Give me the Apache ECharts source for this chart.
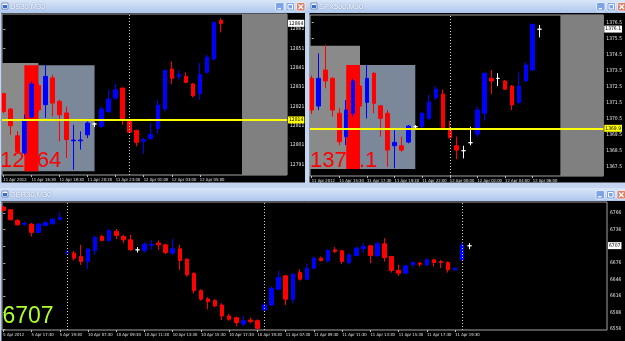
<!DOCTYPE html>
<html><head><meta charset="utf-8">
<script src="https://cdn.jsdelivr.net/npm/echarts@6/dist/echarts.min.js"></script>
<style>html,body{margin:0;padding:0;background:#000;overflow:hidden}#c{width:625px;height:341px}</style>
</head><body><div id="c"></div>
<script>
// ---------------- DATA ----------------
// US30, M30
const us30Times = ["11 Apr 2012","11 Apr 16:30","11 Apr 18:30","11 Apr 20:30","11 Apr 23:00","12 Apr 01:00","12 Apr 03:00","12 Apr 05:00"];
const us30Open  = [12827.6,12819.6,12805.8,12796.9,12815.5,12831.7,12821.9,12835.7,12823.6,12817.6,12803.2,12803.2,12806.3,12811.9,12810.7,12818.4,12825.3,12830.5,12813.2,12808.6,12802.9,12804.3,12809.6,12819.6,12840.3,12836.5,12836.5,12832.6,12827.6,12838.6,12845.5,12865.5];
const us30Close = [12818.4,12811.0,12797.7,12814.1,12832.6,12819.3,12836.5,12822.7,12816.7,12803.8,12803.6,12803.6,12812.4,12811.9,12819.6,12824.8,12829.6,12814.1,12807.6,12802.4,12803.8,12806.5,12821.7,12839.6,12835.5,12837.4,12833.4,12826.5,12837.4,12846.5,12864.4,12863.8];
const us30Low   = [12817.4,12806.3,12796.9,12796.0,12815.0,12818.0,12815.0,12815.8,12802.9,12794.3,12788.2,12798.6,12804.6,12810.3,12809.8,12817.6,12824.4,12811.5,12807.2,12800.3,12796.5,12803.8,12806.9,12818.4,12832.6,12834.8,12833.1,12825.7,12824.4,12837.9,12844.8,12859.3];
const us30High  = [12828.0,12820.1,12808.1,12816.7,12834.0,12833.0,12842.6,12837.4,12824.4,12821.0,12811.5,12808.1,12813.2,12812.7,12821.0,12829.6,12832.7,12830.5,12814.1,12808.9,12804.6,12812.4,12824.4,12840.0,12844.3,12840.0,12838.6,12833.1,12843.4,12847.7,12865.0,12866.7];
const us30PriceTicks = [12791,12801,12811,12821,12831,12841,12851,12861];
const us30Separators = [18];
const us30Level = 12814;
const us30Last = 12864;
const us30BoxFrom   = [null, 3, 5, 34];
const us30BoxTo     = [5, 5, 13, null];
const us30BoxTop    = [12843.4, 12842.3, 12842.3, null];
const us30BoxBottom = [12787.5, 12787.5, 12787.5, null];

// SPX500, M30
const spxTimes = ["11 Apr 2012","11 Apr 15:30","11 Apr 17:30","11 Apr 19:30","11 Apr 22:00","12 Apr 00:00","12 Apr 02:00","12 Apr 04:00","12 Apr 06:00"];
const spxOpen  = [1373.02,1371.29,1373.54,1373.02,1370.84,1369.38,1370.84,1372.54,1371.52,1373.34,1371.31,1370.84,1368.81,1368.81,1369.04,1370.0,1370.0,1370.52,1371.81,1372.04,1369.84,1368.81,1368.5,1369.0,1369.54,1370.84,1373.02,1373.02,1372.86,1372.54,1371.52,1372.86,1373.54,1376.09];
const spxClose = [1371.04,1373.02,1372.86,1371.04,1369.06,1371.04,1372.86,1371.29,1373.02,1371.46,1370.52,1368.54,1369.02,1368.54,1370.04,1370.0,1370.84,1371.54,1372.35,1369.96,1369.31,1368.54,1368.5,1369.0,1371.04,1373.34,1372.86,1373.02,1372.34,1371.36,1372.54,1373.86,1376.4,1376.09];
const spxLow   = [1370.8,1371.04,1372.40,1370.63,1368.85,1368.85,1370.63,1371.04,1370.52,1370.84,1369.38,1367.5,1367.4,1368.44,1368.96,1369.9,1369.8,1370.42,1371.67,1369.9,1369.27,1367.96,1368.02,1368.84,1369.38,1370.38,1372.04,1372.54,1372.3,1371.04,1371.42,1372.8,1373.5,1375.58];
const spxHigh  = [1373.2,1374.59,1375.11,1373.1,1371.15,1371.67,1373.0,1372.71,1373.85,1373.4,1371.35,1371.04,1369.8,1369.38,1370.1,1370.1,1370.94,1371.98,1372.54,1372.33,1370.38,1369.38,1368.81,1370.0,1371.25,1373.38,1373.54,1373.34,1372.92,1372.6,1373.38,1374.06,1376.42,1376.36];
const spxPriceTicks = [1367.5,1368.5,1369.5,1370.5,1371.5,1372.5,1373.5,1374.5,1375.5,1376.5];
const spxSeparators = [20];
const spxLevel = 1369.9;
const spxLast = 1376.1;
const spxBoxFrom   = [null, 5, 7, 36];
const spxBoxTo     = [7, 7, 15, null];
const spxBoxTop    = [1375.06, 1373.86, 1373.86, null];
const spxBoxBottom = [1367.36, 1367.36, 1367.36, null];

// GER30, M30
const gerTimes = ["5 Apr 2012","5 Apr 17:30","5 Apr 19:30","10 Apr 07:30","10 Apr 09:30","10 Apr 11:30","10 Apr 13:30","10 Apr 15:30","10 Apr 17:30","10 Apr 19:30","11 Apr 07:30","11 Apr 09:30","11 Apr 11:30","11 Apr 13:30","11 Apr 15:30","11 Apr 17:30","11 Apr 19:30"];
const gerOpen  = [6776.9,6772.0,6752.7,6746.0,6746.0,6731.0,6743.6,6746.6,6754.5,6694.6,6693.4,6687.4,6678.3,6698.2,6723.7,6715.8,6732.7,6723.7,6717.6,6699.5,6698.2,6707.9,6711.6,6708.5,6693.4,6701.3,6682.5,6657.1,6625.6,6610.5,6607.5,6599.6,6579.7,6576.6,6565.2,6572.4,6571.2,6590.6,6599.6,6628.0,6652.3,6610.0,6658.3,6646.2,6666.2,6684.3,6679.5,6699.5,6697.6,6676.5,6689.2,6701.9,6706.7,6688.6,6710.3,6687.4,6662.0,6657.1,6672.2,6675.3,6672.2,6681.3,6678.3,6676.5,6663.2,6681.3,6706.7];
const gerClose = [6770.8,6753.9,6744.8,6747.0,6731.0,6746.0,6749.0,6755.0,6758.0,6694.8,6684.3,6678.3,6700.7,6721.8,6716.4,6734.5,6725.5,6717.6,6699.5,6699.5,6709.7,6709.0,6708.5,6694.6,6701.3,6680.1,6654.0,6625.6,6609.9,6605.7,6597.8,6579.7,6573.6,6567.6,6571.2,6569.4,6557.3,6599.6,6629.8,6649.8,6610.0,6655.3,6646.2,6666.2,6684.3,6680.1,6698.2,6696.4,6678.3,6690.4,6702.5,6705.5,6689.2,6710.3,6685.5,6662.0,6657.1,6670.4,6676.5,6673.4,6681.3,6676.5,6676.5,6663.2,6666.2,6708.5,6706.7];
const gerLow   = [6769.0,6752.7,6743.0,6743.0,6723.7,6729.8,6743.0,6745.4,6752.7,6690.4,6680.1,6672.2,6664.4,6690.4,6714.6,6714.6,6718.8,6711.6,6697.6,6694.6,6694.6,6699.5,6699.5,6691.6,6690.4,6663.2,6651.1,6620.8,6607.5,6591.8,6595.4,6572.4,6571.2,6561.6,6561.6,6566.3,6555.5,6587.6,6597.8,6627.4,6599.6,6602.6,6643.8,6645.0,6664.4,6678.3,6676.5,6693.4,6674.0,6672.8,6687.4,6694.6,6675.3,6687.4,6678.3,6658.3,6652.3,6655.9,6667.4,6669.2,6669.2,6669.2,6666.2,6658.3,6661.3,6680.1,6700.7];
const gerHigh  = [6779.0,6773.2,6754.9,6751.0,6747.8,6747.8,6750.9,6756.8,6767.2,6699.5,6697.6,6708.5,6702.5,6724.9,6726.7,6737.0,6737.0,6726.7,6726.7,6704.3,6712.8,6717.6,6716.4,6710.3,6718.8,6708.5,6684.3,6658.3,6628.0,6613.6,6609.9,6602.6,6583.4,6578.5,6579.7,6576.6,6573.6,6605.7,6632.8,6661.9,6654.1,6657.1,6664.4,6674.0,6687.4,6687.4,6700.7,6704.3,6699.5,6692.2,6705.5,6711.6,6708.5,6714.6,6720.6,6688.6,6672.2,6672.2,6678.3,6677.7,6684.3,6683.1,6681.3,6678.3,6668.0,6711.6,6711.6];
const gerPriceTicks = [6556,6586,6616,6646,6676,6706,6736,6766];
const gerSeparators = [9, 37, 65];
const gerLast = 6707;

// ---------------- BUILD ----------------
const AXF = "'Liberation Sans Narrow','DejaVu Sans Condensed','Liberation Sans',sans-serif";
const BIGF = "'Liberation Sans',Arial,sans-serif";

function candleData(o, c, l, h) {
  return o.map((v, i) => {
    const it = { value: [i, v, c[i], l[i], h[i]] };
    if (v === c[i]) it.itemStyle = { color: '#ffffff', color0: '#ffffff', borderColor: '#ffffff', borderColor0: '#ffffff', borderColorDoji: '#ffffff' };
    return it;
  });
}
function boxes(from, to, top, bottom, colors) {
  return from.map((f, i) => {
    const a = { itemStyle: { color: colors[i], opacity: 1 } };
    if (f !== null) a.xAxis = f;
    if (top[i] !== null) a.yAxis = top[i];
    const b = {};
    if (to[i] !== null) b.xAxis = to[i];
    if (bottom[i] !== null) b.yAxis = bottom[i];
    return [a, b];
  });
}
function priceLabel(v, text, bg) {
  const isLevel = bg === '#ffff00';
  return { yAxis: v,
    lineStyle: isLevel ? { color: '#ffff00', width: 2, type: 'solid' } : { color: 'rgba(0,0,0,0)', width: 1, type: 'solid' },
    label: { show: true, position: 'end', distance: 1, formatter: text, backgroundColor: bg, color: '#000', fontSize: 5, fontFamily: AXF, padding: [1, 1, 0, 1], lineHeight: 6, opacity: 1 } };
}

const grids = [], xAxes = [], yAxes = [], series = [];
function panel(p) {
  const i = grids.length;
  grids.push({ left: p.left, top: p.top, width: p.width, height: p.height, show: true, borderColor: '#a4a4a4', borderWidth: 1, backgroundColor: 'transparent' });
  const idx = p.times.map((_, k) => k * 4);
  xAxes.push({ type: 'value', gridIndex: i, min: p.xmin, max: p.xmax, splitLine: { show: false }, axisLine: { show: false },
    axisTick: { show: true, customValues: idx, length: 2, lineStyle: { color: '#bdbdbd' } },
    axisLabel: { customValues: idx, formatter: v => p.times[Math.round(v / 4)], color: '#e6e6e6', fontSize: 4.2, fontFamily: AXF, align: 'left', margin: 3 } });
  yAxes.push({ type: 'value', gridIndex: i, position: 'right', min: p.ymin, max: p.ymax, splitLine: { show: false }, axisLine: { show: false },
    axisTick: { show: true, customValues: p.ticks, length: 2, lineStyle: { color: '#bdbdbd' } },
    axisLabel: { customValues: p.ticks, formatter: v => v.toFixed(p.dec), color: '#e6e6e6', fontSize: 5, fontFamily: AXF, margin: 3 } });
  const ml = p.separators.map(s => ({ xAxis: s, lineStyle: { color: '#cfcfcf', type: [1, 2], width: 1 }, label: { show: false } }));
  if (p.level !== undefined) ml.push(priceLabel(p.level, p.level.toFixed(p.dec), '#ffff00'));
  ml.push(priceLabel(p.last, p.last.toFixed(p.dec), '#ffffff'));
  series.push({
    type: 'candlestick', xAxisIndex: i, yAxisIndex: i, data: p.data, encode: { x: 0, y: [1, 2, 3, 4] },
    barWidth: 4, z: 2, clip: true,
    itemStyle: { color: '#0000ff', color0: '#ff0000', borderColor: '#0000ff', borderColor0: '#ff0000', borderColorDoji: '#ffffff', borderWidth: 1 },
    markArea: p.boxes ? { silent: true, label: { show: false }, data: p.boxes } : undefined,
    markLine: { silent: true, symbol: ['none', 'none'], animation: false, data: ml }
  });
}

panel({ left: 2, top: 14, width: 285, height: 161, xmin: -0.185, xmax: 40.41, ymin: 12785.5, ymax: 12868.8,
  times: us30Times, ticks: us30PriceTicks, dec: 0, separators: us30Separators, level: us30Level, last: us30Last,
  data: candleData(us30Open, us30Close, us30Low, us30High),
  boxes: boxes(us30BoxFrom, us30BoxTo, us30BoxTop, us30BoxBottom, ['#8a8a8a', '#ff0000', '#7a8899', '#808080']) });
panel({ left: 310, top: 15, width: 298, height: 161, xmin: -0.24, xmax: 42.21, ymin: 1366.92, ymax: 1376.98,
  times: spxTimes, ticks: spxPriceTicks, dec: 1, separators: spxSeparators, level: spxLevel, last: spxLast,
  data: candleData(spxOpen, spxClose, spxLow, spxHigh),
  boxes: boxes(spxBoxFrom, spxBoxTo, spxBoxTop, spxBoxBottom, ['#8a8a8a', '#ff0000', '#7a8899', '#808080']) });
panel({ left: 2, top: 202, width: 605, height: 128, xmin: -0.184, xmax: 85.51, ymin: 6554.3, ymax: 6786,
  times: gerTimes, ticks: gerPriceTicks, dec: 0, separators: gerSeparators, last: gerLast,
  data: candleData(gerOpen, gerClose, gerLow, gerHigh) });

// ---------------- WINDOW CHROME ----------------
const G = [];
const titleFill = { type: 'linear', x: 0, y: 0, x2: 0, y2: 1, colorStops: [{ offset: 0, color: '#d9e6f8' }, { offset: 0.5, color: '#c3d6f2' }, { offset: 1, color: '#adc6ec' }] };
const frame = '#c3d5f0';
function rect(x, y, w, h, fill, z, extra) { G.push(Object.assign({ type: 'rect', silent: true, z: z || 100, shape: { x, y, width: w, height: h }, style: { fill } }, extra || {})); }
function title(x, y, w, text, bx) {
  rect(x, y, w, 13, titleFill);
  rect(x + 2, y + 3, 6, 6, '#ffffff', 101, { style: { fill: '#ffffff', stroke: '#5a7ab8', lineWidth: 0.8 } });
  rect(x + 3, y + 5, 4, 3, '#3a6cc8', 102);
  G.push({ type: 'text', silent: true, z: 102, x: x + 10, y: y + 7, style: { text, fill: '#ffffff', font: '7.5px "Liberation Sans",sans-serif', verticalAlign: 'middle', textShadowColor: '#4d6aa0', textShadowBlur: 1.5 } });
  const by = y + 2.5;
  G.push({ type: 'rect', silent: true, z: 102, shape: { x: bx, y: by, width: 8.5, height: 8.5, r: 1.5 }, style: { fill: '#7fa4e6', stroke: '#ffffff', lineWidth: 0.7 } });
  G.push({ type: 'line', silent: true, z: 103, shape: { x1: bx + 2, y1: by + 6.3, x2: bx + 5.5, y2: by + 6.3 }, style: { stroke: '#fff', lineWidth: 1.2 } });
  G.push({ type: 'rect', silent: true, z: 102, shape: { x: bx + 10.5, y: by, width: 8.5, height: 8.5, r: 1.5 }, style: { fill: '#7fa4e6', stroke: '#ffffff', lineWidth: 0.7 } });
  G.push({ type: 'rect', silent: true, z: 103, shape: { x: bx + 12.5, y: by + 2, width: 4.5, height: 4.5 }, style: { fill: 'none', stroke: '#fff', lineWidth: 1 } });
  G.push({ type: 'rect', silent: true, z: 102, shape: { x: bx + 21, y: by, width: 8.5, height: 8.5, r: 1.5 }, style: { fill: '#d9806d', stroke: '#ffffff', lineWidth: 0.7 } });
  G.push({ type: 'line', silent: true, z: 103, shape: { x1: bx + 23, y1: by + 2, x2: bx + 27.5, y2: by + 6.5 }, style: { stroke: '#fff', lineWidth: 1.2 } });
  G.push({ type: 'line', silent: true, z: 103, shape: { x1: bx + 27.5, y1: by + 2, x2: bx + 23, y2: by + 6.5 }, style: { stroke: '#fff', lineWidth: 1.2 } });
}
rect(0, 0, 1.5, 341, frame);
rect(305, 0, 4.5, 189, frame);
rect(0, 182.5, 625, 6, frame);
title(0, 0, 309, 'US30,M30', 275.5);
title(309, 0, 316, 'SPX500,M30', 596.5);
title(0, 188, 625, 'GER30,M30', 596);

// last-price captions (MT4 text objects)
G.push({ type: 'text', silent: true, z: 1.5, x: 0, y: 160.5, style: { text: String(us30Last), fill: '#ff0000', font: '22px ' + BIGF, verticalAlign: 'middle' } });
G.push({ type: 'text', silent: true, z: 1.5, x: 310, y: 160.5, style: { text: spxLast.toFixed(1), fill: '#ff0000', font: '22px ' + BIGF, verticalAlign: 'middle' } });
G.push({ type: 'text', silent: true, z: 1.5, x: 2.5, y: 317, style: { text: String(gerLast), fill: '#adff2f', font: '23px ' + BIGF, verticalAlign: 'middle' } });

const chart = echarts.init(document.getElementById('c'), null, { renderer: 'canvas', width: 625, height: 341 });
chart.setOption({
  animation: false,
  backgroundColor: '#000000',
  grid: grids, xAxis: xAxes, yAxis: yAxes, series,
  graphic: { elements: G }
});
</script></body></html>
